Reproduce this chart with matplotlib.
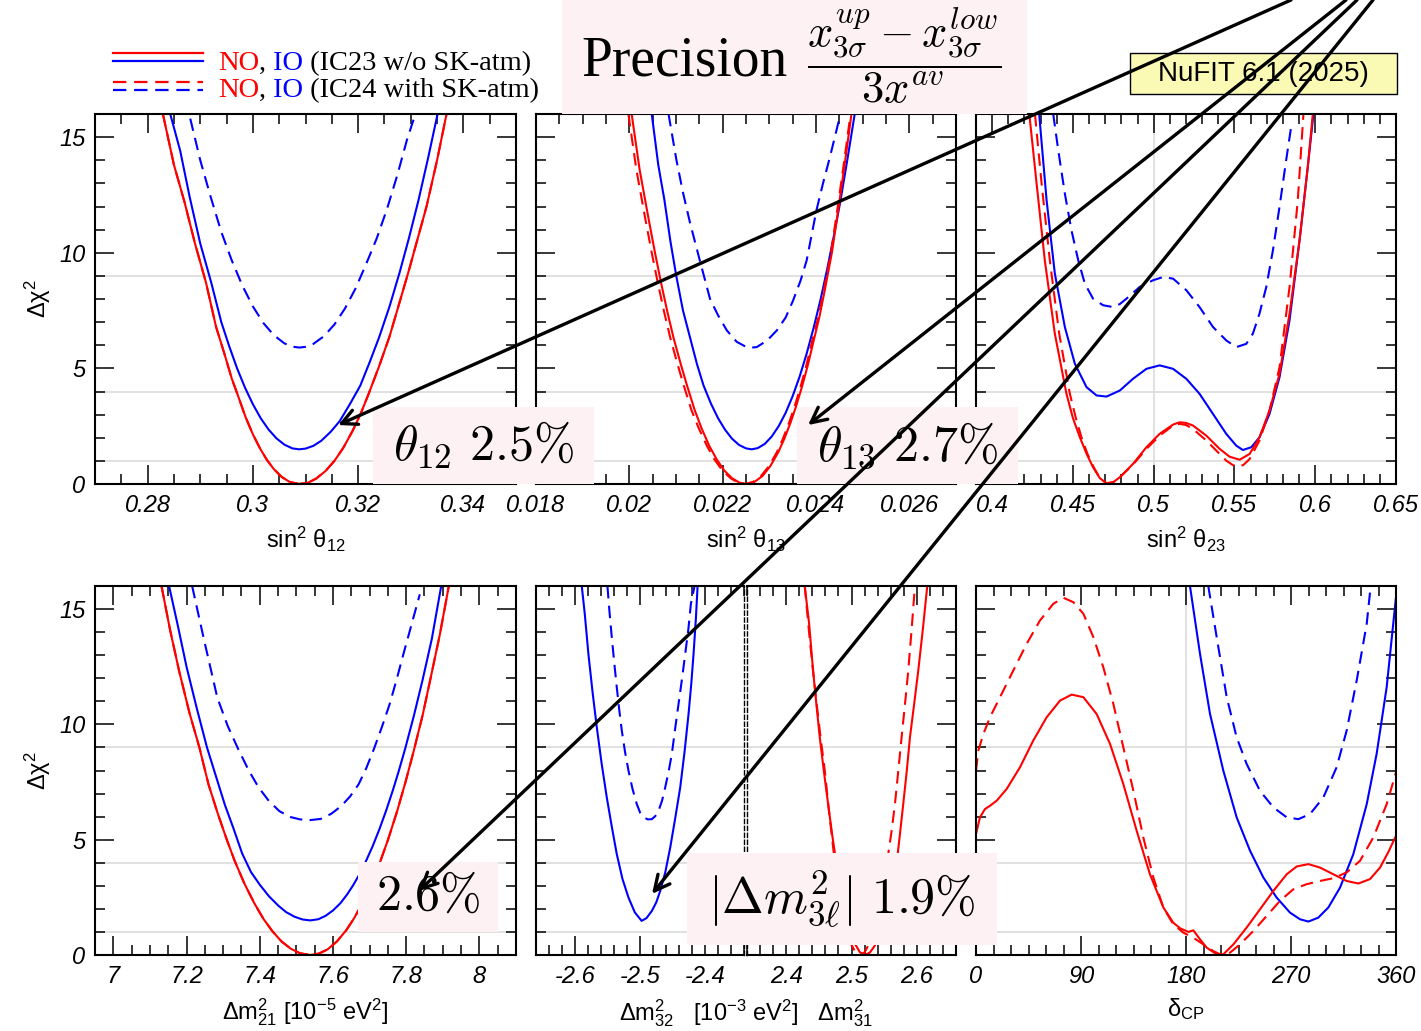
import matplotlib
matplotlib.use("Agg")
import matplotlib.pyplot as plt
from matplotlib.ticker import MultipleLocator
from matplotlib.patches import Rectangle, ConnectionPatch
from matplotlib.lines import Line2D
from matplotlib.text import Annotation

# ---------------- chi^2 profiles ----------------
# sin^2 theta12
th12_x_no = [0.2829, 0.2850, 0.2870, 0.2890, 0.2911, 0.2930, 0.2945, 0.2960, 0.2972, 0.2986, 0.3000,
             0.3014, 0.3027, 0.3040, 0.3055, 0.3070, 0.3088, 0.3105, 0.3120, 0.3138, 0.3155, 0.3172,
             0.3190, 0.3205, 0.3220, 0.3240, 0.3260, 0.3278, 0.3296, 0.3313, 0.3330, 0.3350, 0.3368]
th12_no = [16.0, 13.8, 12.2, 10.4, 8.7, 6.8, 5.7, 4.55, 3.8, 2.9, 2.15,
           1.52, 1.03, 0.64, 0.30, 0.09, 0.0, 0.06, 0.23, 0.56, 1.0, 1.57,
           2.32, 3.05, 3.9, 5.1, 6.4, 7.8, 9.2, 10.6, 12.0, 14.0, 16.0]
th12_x_io = [0.2843, 0.2862, 0.2880, 0.2900, 0.2921, 0.2940, 0.2955, 0.2970, 0.2985, 0.3000, 0.3015,
             0.3030, 0.3045, 0.3060, 0.3075, 0.3088, 0.3100, 0.3115, 0.3130, 0.3148, 0.3165, 0.3184,
             0.3204, 0.3222, 0.3240, 0.3260, 0.3279, 0.3297, 0.3315, 0.3333, 0.3351]
th12_io = [16.0, 14.4, 12.4, 10.4, 8.7, 7.0, 5.96, 5.0, 4.17, 3.45, 2.84,
           2.35, 1.97, 1.70, 1.54, 1.5, 1.53, 1.65, 1.87, 2.26, 2.72, 3.44,
           4.25, 5.27, 6.35, 7.7, 9.16, 10.67, 12.3, 14.1, 16.0]
th12_x_io24 = [0.2881, 0.2900, 0.2920, 0.2940, 0.2960, 0.2980, 0.3000, 0.3020, 0.3040, 0.3060, 0.3075,
               0.3088, 0.3100, 0.3115, 0.3135, 0.3155, 0.3175, 0.3195, 0.3215, 0.3235, 0.3255, 0.3275,
               0.3293, 0.3306]
th12_io24 = [15.8, 14.0, 12.4, 10.9, 9.66, 8.58, 7.68, 6.96, 6.43, 6.08, 5.94,
             5.9, 5.93, 6.06, 6.39, 6.9, 7.59, 8.45, 9.5, 10.6, 11.9, 13.4,
             14.9, 15.8]

# sin^2 theta13
th13_x_no = [0.02005, 0.02022, 0.02040, 0.02055, 0.02068, 0.02082, 0.02095, 0.02110, 0.02123, 0.02140,
             0.02155, 0.02171, 0.02187, 0.02204, 0.02220, 0.02236, 0.02251, 0.02268, 0.02285, 0.02302,
             0.02319, 0.02332, 0.02345, 0.02357, 0.02369, 0.02382, 0.02395, 0.02407, 0.02419, 0.02434,
             0.02448, 0.02462, 0.02476]
th13_no = [16.0, 13.6, 11.6, 10.0, 8.7, 7.4, 6.3, 5.2, 4.3, 3.2,
           2.4, 1.66, 1.07, 0.57, 0.25, 0.06, 0.0, 0.09, 0.34, 0.77,
           1.37, 1.95, 2.63, 3.34, 4.14, 5.1, 6.2, 7.2, 8.4, 10.0,
           11.9, 13.9, 16.0]
th13_x_no24 = [0.01998, 0.02015, 0.02033, 0.02048, 0.02061, 0.02075, 0.02088, 0.02103, 0.02116, 0.02133,
               0.02149, 0.02166, 0.02182, 0.02200, 0.02217, 0.02233, 0.02248, 0.02265, 0.02282, 0.02299,
               0.02316, 0.02329, 0.02342, 0.02354, 0.02366, 0.02379, 0.02392, 0.02405, 0.02417, 0.02432,
               0.02446, 0.02460, 0.02474]
th13_no24 = th13_no
th13_x_io = [0.02048, 0.02062, 0.02075, 0.02088, 0.02101, 0.02115, 0.02130, 0.02145, 0.02159, 0.02175,
             0.02190, 0.02205, 0.02220, 0.02235, 0.02250, 0.02262, 0.02275, 0.02290, 0.02305, 0.02320,
             0.02335, 0.02350, 0.02365, 0.02380, 0.02395, 0.02410, 0.02424, 0.02438, 0.02452, 0.02467,
             0.02483]
th13_io = [16.0, 13.8, 12.3, 10.5, 8.95, 7.5, 6.34, 5.18, 4.26, 3.47,
           2.85, 2.35, 1.96, 1.69, 1.54, 1.5, 1.55, 1.73, 2.05, 2.5,
           3.08, 3.8, 4.65, 5.64, 6.76, 8.0, 9.3, 10.7, 12.2, 14.0,
           16.0]
th13_x_io24 = [0.02084, 0.02101, 0.02115, 0.02130, 0.02151, 0.02173, 0.02190, 0.02209, 0.02230, 0.02251,
               0.02262, 0.02273, 0.02295, 0.02316, 0.02335, 0.02351, 0.02367, 0.02380, 0.02401, 0.02415,
               0.02430, 0.02450]
th13_io24 = [16.0, 14.0, 12.6, 11.3, 9.67, 8.0, 7.3, 6.64, 6.15, 5.92,
             5.9, 5.92, 6.2, 6.64, 7.2, 7.94, 8.8, 9.67, 11.84, 13.0,
             14.15, 15.8]

# sin^2 theta23
th23_x_no = [0.4230, 0.4275, 0.4326, 0.4388, 0.4460, 0.4500, 0.4543, 0.4585, 0.4625, 0.4667, 0.4708,
             0.4750, 0.4790, 0.4872, 0.4955, 0.5037, 0.5120, 0.5161, 0.5200, 0.5243, 0.5326, 0.5408,
             0.5470, 0.5532, 0.5594, 0.5655, 0.5717, 0.5779, 0.5841, 0.5903, 0.5954, 0.5985]
th23_no = [16.0, 13.0, 9.67, 6.50, 3.90, 2.85, 2.02, 1.3, 0.72, 0.25, 0.03,
           0.08, 0.29, 0.87, 1.59, 2.17, 2.57, 2.67, 2.64, 2.53, 2.09, 1.52,
           1.18, 1.05, 1.30, 2.02, 3.18, 4.77, 7.37, 10.54, 13.72, 16.0]
th23_x_no24 = [0.4265, 0.4306, 0.4357, 0.4415, 0.4481, 0.4520, 0.4553, 0.4590, 0.4629, 0.4667, 0.4708,
               0.4750, 0.4790, 0.4872, 0.4955, 0.5037, 0.5120, 0.5161, 0.5200, 0.5243, 0.5326, 0.5408,
               0.5449, 0.5490, 0.5521, 0.5555, 0.5594, 0.5655, 0.5717, 0.5779, 0.5841, 0.5892, 0.5927]
th23_no24 = [16.0, 13.0, 9.67, 6.5, 3.9, 2.8, 2.02, 1.3, 0.72, 0.25, 0.03,
             0.08, 0.29, 0.84, 1.52, 2.09, 2.53, 2.60, 2.55, 2.38, 1.88, 1.30,
             1.01, 0.82, 0.75, 0.82, 1.08, 1.88, 3.18, 5.05, 8.52, 12.27, 16.0]
th23_x_io = [0.4291, 0.4337, 0.4388, 0.4450, 0.4512, 0.4584, 0.4646, 0.4708, 0.4790, 0.4872, 0.4955,
             0.5037, 0.5120, 0.5202, 0.5284, 0.5367, 0.5449, 0.5511, 0.5552, 0.5604, 0.5655, 0.5717,
             0.5779, 0.5841, 0.5903, 0.5954, 0.5989]
th23_io = [16.0, 12.27, 9.1, 6.79, 5.2, 4.19, 3.83, 3.78, 4.04, 4.55, 4.98,
           5.13, 4.98, 4.55, 3.9, 3.03, 2.17, 1.66, 1.47, 1.59, 2.02, 3.03,
           4.62, 7.08, 10.54, 13.72, 16.0]
th23_x_io24 = [0.4378, 0.4409, 0.4450, 0.4491, 0.4533, 0.4574, 0.4625, 0.4687, 0.4749, 0.4790, 0.4831,
               0.4913, 0.4996, 0.5058, 0.5120, 0.5202, 0.5284, 0.5367, 0.5449, 0.5511, 0.5573, 0.5614,
               0.5655, 0.5697, 0.5738, 0.5779, 0.5820, 0.5851]
th23_io24 = [16.0, 14.44, 12.56, 10.97, 9.67, 8.66, 8.01, 7.73, 7.65, 7.78, 8.01,
             8.52, 8.81, 8.95, 8.88, 8.38, 7.65, 6.79, 6.21, 5.92, 6.06, 6.50,
             7.37, 8.52, 10.1, 11.99, 14.0, 15.45]

# Delta m^2_21 [1e-5 eV^2]
dm21_x_no = [7.1316, 7.155, 7.180, 7.208, 7.2351, 7.260, 7.285, 7.310, 7.3311, 7.358, 7.385,
             7.410, 7.4346, 7.460, 7.485, 7.510, 7.538, 7.562, 7.585, 7.611, 7.637, 7.658,
             7.680, 7.703, 7.7264, 7.750, 7.775, 7.798, 7.8205, 7.845, 7.868, 7.892, 7.9165]
dm21_no = [16.0, 14.1, 12.3, 10.5, 9.0, 7.4, 6.15, 5.0, 4.1, 3.1, 2.25,
           1.57, 1.03, 0.58, 0.27, 0.075, 0.0, 0.064, 0.24, 0.59, 1.09, 1.6,
           2.23, 3.02, 3.93, 4.98, 6.22, 7.49, 8.84, 10.4, 12.1, 13.9, 16.0]
dm21_x_io = [7.1523, 7.176, 7.200, 7.228, 7.2559, 7.280, 7.305, 7.328, 7.352, 7.376, 7.400, 7.425,
             7.450, 7.472, 7.495, 7.517, 7.538, 7.560, 7.580, 7.600, 7.620, 7.638, 7.655, 7.672,
             7.6887, 7.708, 7.727, 7.745, 7.764, 7.780, 7.797, 7.821, 7.845, 7.870, 7.8957]
dm21_io = [16.0, 14.3, 12.5, 10.7, 9.0, 7.77, 6.5, 5.5, 4.4, 3.6, 3.05, 2.55,
           2.15, 1.86, 1.66, 1.54, 1.5, 1.55, 1.7, 1.93, 2.24, 2.61, 3.02, 3.49,
           4.02, 4.7, 5.46, 6.25, 7.16, 7.99, 8.93, 10.37, 11.94, 13.7, 16.0]
dm21_x_io24 = [7.2153, 7.2465, 7.2841, 7.3120, 7.3406, 7.3700, 7.3971, 7.4250, 7.4535, 7.4820, 7.5100,
               7.5380, 7.5664, 7.5950, 7.6229, 7.6470, 7.6700, 7.6910, 7.7123, 7.7340, 7.7547, 7.7740,
               7.7923, 7.8150, 7.8372]
dm21_io24 = [16.0, 13.76, 11.16, 9.95, 8.95, 8.0, 7.26, 6.68, 6.24, 5.99, 5.88,
             5.85, 5.9, 6.12, 6.46, 6.88, 7.40, 8.1, 8.95, 9.9, 10.87, 11.95,
             13.04, 14.35, 15.64]

# Delta m^2_32 (IO, negative) and Delta m^2_31 (NO, positive) [1e-3 eV^2]
dm32_x_io = [-2.5896, -2.5850, -2.5794, -2.5730, -2.5665, -2.5590, -2.5511, -2.5430, -2.5357, -2.5270,
             -2.5177, -2.5080, -2.4975, -2.4900, -2.4818, -2.4750, -2.4689, -2.4610, -2.4535, -2.4460,
             -2.4381, -2.4315, -2.4253, -2.4210, -2.4176, -2.4140, -2.4114]
dm32_io = [16.0, 14.8, 13.06, 11.4, 9.88, 8.3, 6.83, 5.5, 4.37, 3.3,
           2.49, 1.85, 1.48, 1.6, 1.91, 2.28, 2.78, 3.6, 4.66, 5.9,
           7.27, 8.8, 10.45, 11.8, 13.06, 14.6, 16.0]
dm32_x_io24 = [-2.5501, -2.5470, -2.5434, -2.5397, -2.5357, -2.5320, -2.5280, -2.5230, -2.5177, -2.5115,
               -2.5049, -2.4995, -2.4946, -2.4880, -2.4818, -2.4765, -2.4715, -2.4660, -2.4612, -2.4560,
               -2.4510, -2.4460, -2.4407, -2.4355, -2.4304, -2.4255, -2.4217, -2.4160]
dm32_io24 = [16.0, 14.9, 13.78, 12.7, 11.6, 10.65, 9.73, 8.8, 7.99, 7.2,
             6.54, 6.15, 5.97, 5.88, 5.89, 6.02, 6.25, 6.7, 7.27, 7.95,
             8.72, 9.8, 10.89, 11.95, 13.06, 14.15, 15.23, 16.0]
dm31_x_no = [2.4284, 2.4350, 2.4412, 2.4465, 2.4514, 2.4580, 2.4642, 2.4705, 2.4770, 2.4835,
             2.4900, 2.4975, 2.5050, 2.5128, 2.5205, 2.5283, 2.5360, 2.5440, 2.5520, 2.5605,
             2.5690, 2.5740, 2.5792, 2.5845, 2.5895, 2.5960, 2.6022, 2.6090, 2.6160]
dm31_no = [16.0, 14.4, 12.33, 10.8, 9.44, 7.9, 6.54, 5.2, 3.94, 2.83,
           1.92, 1.1, 0.50, 0.12, 0.0, 0.11, 0.42, 0.96, 1.72, 2.71,
           3.94, 5.2, 6.54, 7.95, 9.44, 10.9, 12.33, 14.06, 16.0]
dm31_x_no24 = [2.4284, 2.4360, 2.4438, 2.4515, 2.4591, 2.4655, 2.4719, 2.4785, 2.4850, 2.4920,
               2.4990, 2.5060, 2.5130, 2.5200, 2.5270, 2.5340, 2.5410, 2.5485, 2.5562, 2.5615,
               2.5665, 2.5715, 2.5767, 2.5818, 2.5869, 2.5920, 2.5971]
dm31_no24 = [16.0, 13.7, 11.6, 9.7, 7.99, 6.25, 4.66, 3.15, 1.96, 1.0,
             0.49, 0.12, 0.0, 0.11, 0.49, 1.1, 1.9, 3.0, 4.37, 5.4,
             6.54, 7.95, 9.44, 10.85, 12.33, 14.1, 16.0]

# delta_CP [deg]
dcp_x_no = [0, 3.4, 7.7, 12, 17.7, 26.3, 37.7, 49.1, 60.6, 72, 82, 92, 103.4, 114.9, 126.3, 137.7,
            149.1, 160.6, 169.1, 174.9, 182, 186.3, 192, 197.7, 206.3, 212, 220.6, 232, 243.4, 254.9,
            266.3, 274.9, 284.9, 294.9, 306.3, 317.7, 327.7, 337.7, 346.3, 353.3, 360]
dcp_no = [5.24, 5.97, 6.33, 6.47, 6.69, 7.20, 8.14, 9.30, 10.31, 11.03, 11.29, 11.18, 10.45, 9.15, 7.41, 5.39,
          3.50, 2.06, 1.40, 1.16, 1.0, 1.07, 0.68, 0.32, 0.03, 0.03, 0.46, 1.19, 1.98, 2.78,
          3.50, 3.84, 3.94, 3.79, 3.50, 3.21, 3.10, 3.29, 3.79, 4.45, 5.17]
dcp_x_no24 = [0, 2, 6.3, 12, 20.6, 32, 43.4, 54.9, 66.3, 74.9, 83.4, 92, 100.6, 109.1, 117.7, 126.3,
              134.9, 143.4, 152, 160.6, 169.1, 177.7, 186.3, 194.9, 203.4, 210.6, 217.7, 226.3, 237.7,
              249.1, 260.6, 272, 283.4, 294.9, 306.3, 317.7, 329.1, 340.6, 352, 360]
dcp_no24 = [7.99, 8.86, 9.58, 10.31, 11.18, 12.34, 13.49, 14.51, 15.23, 15.49, 15.30, 14.80, 13.78, 12.48,
            10.89, 9.0, 7.12, 5.10, 3.36, 2.06, 1.33, 0.97, 0.75, 0.46, 0.17, 0.0, 0.10, 0.46, 1.04,
            1.69, 2.35, 2.85, 3.07, 3.21, 3.33, 3.58, 4.08, 5.10, 6.54, 7.92]
dcp_x_io = [183.4, 192, 200.6, 212, 223.4, 234.9, 246.3, 257.7, 269.1, 277.7, 284.9, 293.4, 302, 312,
            323.4, 334.9, 343.4, 352, 360]
dcp_io = [16.0, 13.06, 10.45, 7.99, 5.97, 4.52, 3.36, 2.49, 1.84, 1.55, 1.45, 1.62, 2.06, 2.92,
          4.37, 6.54, 8.72, 11.61, 15.52]
dcp_x_io24 = [199.1, 206.3, 214.9, 223.4, 232, 243.4, 254.9, 266.3, 276.3, 286.3, 297.7, 309.1,
              317.7, 326.3, 334.9, 338.3]
dcp_io24 = [16.0, 13.78, 11.18, 9.44, 8.28, 7.12, 6.40, 5.97, 5.89, 6.11, 6.83, 8.14,
            9.73, 11.90, 14.36, 16.0]

# ---------------- style ----------------
plt.rcParams["font.family"] = ["Liberation Sans", "DejaVu Sans"]
plt.rcParams["mathtext.fontset"] = "custom"
plt.rcParams["mathtext.rm"] = "Liberation Sans"
plt.rcParams["mathtext.it"] = "Liberation Sans:italic"
plt.rcParams["mathtext.bf"] = "Liberation Sans:bold"
plt.rcParams["axes.linewidth"] = 1.5

RED = "#ff0000"
BLUE = "#0000ff"
PINK = "#fdf1f4"
GRID = "#dcdcdc"
DASH = (0, (6, 3.5))
LW = 1.5
TICKFS = 17
LABFS = 17

W, H = 1421, 1031
fig = plt.figure(figsize=(W / 100, H / 100), dpi=100)


def add_panel(l, t, r, b):
    return fig.add_axes([l / W, 1 - b / H, (r - l) / W, (b - t) / H])


def dress(ax, xlim, major, labels, minor, ylabels=False, left=True, right=True):
    ax.set_xlim(*xlim)
    ax.set_ylim(0, 16)
    ax.set_xticks(major)
    ax.set_xticklabels(labels, fontstyle="italic", fontsize=TICKFS)
    ax.xaxis.set_minor_locator(MultipleLocator(minor))
    ax.set_yticks([0, 5, 10, 15])
    ax.yaxis.set_minor_locator(MultipleLocator(1))
    ax.tick_params(which="both", direction="in", top=True, bottom=True,
                   left=left, right=right, width=1.1)
    ax.tick_params(which="major", length=14, pad=7)
    ax.tick_params(which="minor", length=7)
    if ylabels:
        ax.set_yticklabels(["0", "5", "10", "15"], fontstyle="italic", fontsize=TICKFS)
        ax.set_ylabel("Δχ$^2$", fontsize=LABFS, labelpad=4)
    else:
        ax.tick_params(labelleft=False)
    for yv in (1, 4, 9):
        ax.axhline(yv, color=GRID, lw=1.2, zorder=0)


def curves(ax, no=None, no24=None, io=None, io24=None):
    if io24 is not None:
        ax.plot(*io24, color=BLUE, lw=LW, ls=DASH)
    if io is not None:
        ax.plot(*io, color=BLUE, lw=LW)
    if no24 is not None:
        ax.plot(*no24, color=RED, lw=LW, ls=DASH)
    if no is not None:
        ax.plot(*no, color=RED, lw=LW)


# top row
ax1 = add_panel(95, 114, 516, 484)
ax2 = add_panel(536, 114, 956, 484)
ax3 = add_panel(976, 114, 1396, 484)
# bottom row
ax4 = add_panel(95, 586, 516, 955)
ax5a = add_panel(536, 586, 744, 955)
ax5b = add_panel(747, 586, 956, 955)
ax6 = add_panel(976, 586, 1396, 955)

curves(ax1, (th12_x_no, th12_no), (th12_x_no, th12_no), (th12_x_io, th12_io), (th12_x_io24, th12_io24))
dress(ax1, (0.27, 0.35), [0.28, 0.30, 0.32, 0.34], ["0.28", "0.3", "0.32", "0.34"], 0.005, ylabels=True)
ax1.set_xlabel("sin$^2$ θ$_{12}$", fontsize=LABFS, labelpad=6)

curves(ax2, (th13_x_no, th13_no), (th13_x_no24, th13_no24), (th13_x_io, th13_io), (th13_x_io24, th13_io24))
dress(ax2, (0.018, 0.027), [0.018, 0.020, 0.022, 0.024, 0.026],
      ["0.018", "0.02", "0.022", "0.024", "0.026"], 0.0005)
ax2.set_xlabel("sin$^2$ θ$_{13}$", fontsize=LABFS, labelpad=6)

ax3.axvline(0.5, color=GRID, lw=1.2, zorder=0)
curves(ax3, (th23_x_no, th23_no), (th23_x_no24, th23_no24), (th23_x_io, th23_io), (th23_x_io24, th23_io24))
dress(ax3, (0.39, 0.65), [0.40, 0.45, 0.50, 0.55, 0.60, 0.65],
      ["0.4", "0.45", "0.5", "0.55", "0.6", "0.65"], 0.01)
ax3.set_xlabel("sin$^2$ θ$_{23}$", fontsize=LABFS, labelpad=6)

curves(ax4, (dm21_x_no, dm21_no), (dm21_x_no, dm21_no), (dm21_x_io, dm21_io), (dm21_x_io24, dm21_io24))
dress(ax4, (6.95, 8.1), [7.0, 7.2, 7.4, 7.6, 7.8, 8.0], ["7", "7.2", "7.4", "7.6", "7.8", "8"], 0.05,
      ylabels=True)
ax4.set_xlabel("Δm$^2_{21}$ [10$^{-5}$ eV$^2$]", fontsize=LABFS, labelpad=6)

curves(ax5a, io=(dm32_x_io, dm32_io), io24=(dm32_x_io24, dm32_io24))
dress(ax5a, (-2.66, -2.34), [-2.6, -2.5, -2.4], ["-2.6", "-2.5", "-2.4"], 0.02, right=False)
ax5a.spines["right"].set_linestyle((0, (3, 2)))
ax5a.spines["right"].set_linewidth(1.0)

curves(ax5b, no=(dm31_x_no, dm31_no), no24=(dm31_x_no24, dm31_no24))
dress(ax5b, (2.34, 2.66), [2.4, 2.5, 2.6], ["2.4", "2.5", "2.6"], 0.02, left=False)
ax5b.spines["left"].set_linestyle((0, (3, 2)))
ax5b.spines["left"].set_linewidth(1.0)
fig.text(746 / W, 1 - 1013 / H, "Δm$^2_{32}$   [10$^{-3}$ eV$^2$]   Δm$^2_{31}$",
         fontsize=LABFS, ha="center", va="center")

ax6.axvline(180, color=GRID, lw=1.2, zorder=0)
curves(ax6, (dcp_x_no, dcp_no), (dcp_x_no24, dcp_no24), (dcp_x_io, dcp_io), (dcp_x_io24, dcp_io24))
dress(ax6, (0, 360), [0, 90, 180, 270, 360], ["0", "90", "180", "270", "360"], 15)
ax6.set_xlabel("δ$_{\\rm CP}$", fontsize=LABFS, labelpad=6)

# ---------------- legend (top left) ----------------
for y_px, col, ls in [(53, RED, "-"), (61, BLUE, "-"), (82, RED, DASH), (90, BLUE, DASH)]:
    fig.add_artist(Line2D([113 / W, 203 / W], [1 - y_px / H] * 2, color=col, lw=1.6, ls=ls))


def colour_text(x_px, y_px, parts, **kw):
    t = fig.text(x_px / W, 1 - y_px / H, parts[0][0], color=parts[0][1], va="baseline", **kw)
    for s, c in parts[1:]:
        t = fig.add_artist(Annotation(s, xy=(1, 0), xycoords=t, va="bottom", color=c, **kw))


legend_font = dict(fontfamily="Liberation Serif", fontsize=20.5)
colour_text(218, 70, [("NO", RED), (",", "k"), (" IO", BLUE), (" (IC23 w/o SK-atm)", "k")], **legend_font)
colour_text(218, 97, [("NO", RED), (",", "k"), (" IO", BLUE), (" (IC24 with SK-atm)", "k")], **legend_font)

# ---------------- headline ----------------
fig.add_artist(Rectangle((562 / W, 1 - 114 / H), 465 / W, 120 / H, transform=fig.transFigure,
                         facecolor=PINK, edgecolor="none", zorder=2))
fig.text(581 / W, 1 - 76 / H, "Precision", fontfamily="Liberation Serif", fontsize=40,
         va="baseline", zorder=3)
fig.text(904 / W, 1 - 56 / H, r"$\dfrac{x^{up}_{3\sigma}-x^{low}_{3\sigma}}{3x^{av}}$",
         math_fontfamily="cm", fontsize=32, ha="center", va="center", zorder=3)

fig.add_artist(Rectangle((1130 / W, 1 - 94 / H), 267 / W, 41 / H, transform=fig.transFigure,
                         facecolor="#fafab4", edgecolor="k", lw=1.0, zorder=2))
fig.text(1263 / W, 1 - 74 / H, "NuFIT 6.1 (2025)", fontfamily=["Liberation Sans Narrow", "Liberation Sans"],
         fontsize=20, ha="center", va="center", zorder=3)

# ---------------- precision boxes ----------------
boxes = [
    ((373, 407, 594, 484), r"$\theta_{12}\ 2.5\%$"),
    ((797, 407, 1018, 484), r"$\theta_{13}\ 2.7\%$"),
    ((358, 862, 498, 932), r"$2.6\%$"),
    ((687, 853, 997, 945), r"$|\Delta m^2_{3\ell}|\ 1.9\%$"),
]
for (l, t, r, b), label in boxes:
    fig.add_artist(Rectangle((l / W, 1 - b / H), (r - l) / W, (b - t) / H, transform=fig.transFigure,
                             facecolor=PINK, edgecolor="none", zorder=4))
    fig.text((l + r) / 2 / W, 1 - (t + b) / 2 / H, label, math_fontfamily="cm", fontsize=36,
             ha="center", va="center", zorder=5)

# ---------------- arrows from the top edge ----------------
arrows = [
    (1291, ax1, (0.3162, 2.55)),
    (1346, ax2, (0.02383, 2.55)),
    (1357, ax4, (7.835, 2.78)),
    (1373, ax5a, (-2.4815, 2.65)),
]
for x_top, ax, tip in arrows:
    con = ConnectionPatch(xyA=(x_top, H), coordsA="figure pixels", xyB=tip, coordsB="data", axesB=ax,
                          arrowstyle="->,head_length=1.1,head_width=0.55", mutation_scale=10,
                          lw=2.4, color="k", shrinkA=0, shrinkB=0, zorder=6)
    fig.add_artist(con)

fig.savefig("out.png", dpi=100)
